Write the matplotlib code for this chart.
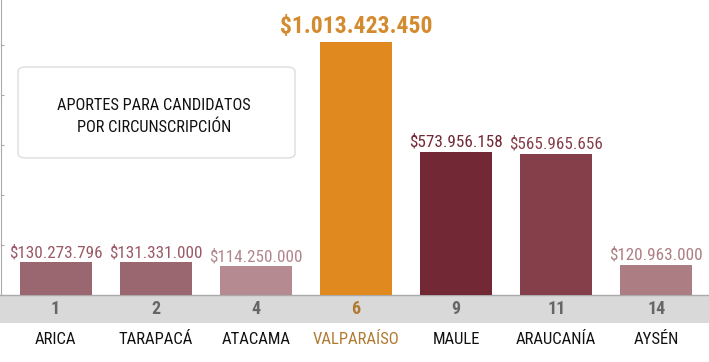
import matplotlib
matplotlib.use("Agg")
import matplotlib.pyplot as plt
from matplotlib.patches import FancyBboxPatch, Rectangle

plt.rcParams["font.family"] = ["Roboto Condensed", "Archivo Narrow", "DejaVu Sans"]

# data
circunscripciones = ["1", "2", "4", "6", "9", "11", "14"]
regiones = ["ARICA", "TARAPACÁ", "ATACAMA", "VALPARAÍSO", "MAULE", "ARAUCANÍA", "AYSÉN"]
aportes = [130273796, 131331000, 114250000, 1013423450, 573956158, 565965656, 120963000]
bar_colors = ["#9a6770", "#9a6770", "#b58b91", "#df891e", "#722835", "#853f4a", "#ad7d84"]
label_colors = ["#9a5966", "#9a5966", "#b0868c", "#d48a2e", "#722835", "#843f4b", "#ad7d84"]
HIGHLIGHT = 3

W, H = 709, 362
fig = plt.figure(figsize=(W / 100, H / 100), dpi=100)
base_px = 295
ax = fig.add_axes([1 / W, (H - base_px) / H, (W - 1) / W, base_px / H])
ax.patch.set_alpha(0)

x = list(range(len(aportes)))
ax.bar(x, aportes, width=0.72, color=bar_colors, zorder=2)
ax.set_xlim(-0.545, 6.525)
ax.set_ylim(0, 1180e6)

for s in ["top", "right", "bottom"]:
    ax.spines[s].set_visible(False)
ax.spines["left"].set_color("#aaaaaa")
ax.set_yticks([200e6, 400e6, 600e6, 800e6, 1000e6])
ax.set_yticklabels([])
ax.tick_params(axis="y", direction="in", length=2.3, color="#aaaaaa")
ax.set_xticks([])

# value labels
for i, v in enumerate(aportes):
    s = "$" + f"{v:,}".replace(",", ".")
    if i == HIGHLIGHT:
        ax.annotate(s, (i, v), xytext=(0, 6.5), textcoords="offset points",
                    ha="center", va="baseline", fontsize=17, fontweight="bold",
                    color=label_colors[i])
    else:
        ax.annotate(s, (i, v), xytext=(0, 3.5), textcoords="offset points",
                    ha="center", va="baseline", fontsize=12.3, color=label_colors[i])

# gray band with circunscripcion numbers
band = Rectangle((0, (H - 323) / H), 1, 28 / H, transform=fig.transFigure,
                 facecolor="#d9d9d9", edgecolor="none", zorder=-2)
fig.patches.append(band)
fig.add_artist(plt.Line2D([0, 1], [(H - base_px) / H] * 2, transform=fig.transFigure,
                          color="#aaaaaa", lw=1, zorder=-1))

trans = ax.get_xaxis_transform()
for i, (num, reg) in enumerate(zip(circunscripciones, regiones)):
    c_num = "#b07a30" if i == HIGHLIGHT else "#666666"
    c_reg = "#b07a30" if i == HIGHLIGHT else "#111111"
    ax.text(i, -14 / base_px, num, transform=trans, ha="center", va="center",
            fontsize=13, fontweight="bold", color=c_num, clip_on=False)
    ax.text(i, -44 / base_px, reg, transform=trans, ha="center", va="center",
            fontsize=12, color=c_reg, clip_on=False)

# title box
box = FancyBboxPatch((18 / W, (H - 158) / H), 277 / W, 91 / H,
                     boxstyle="round,pad=0,rounding_size=0.012",
                     transform=fig.transFigure, facecolor="white",
                     edgecolor="#dddddd", lw=1, zorder=3)
fig.patches.append(box)
fig.text(154 / W, (H - 105) / H, "APORTES PARA CANDIDATOS", ha="center", va="center",
         fontsize=11.8, color="#111111", zorder=4)
fig.text(154 / W, (H - 127) / H, "POR CIRCUNSCRIPCIÓN", ha="center", va="center",
         fontsize=11.8, color="#111111", zorder=4)

fig.savefig("out.png", dpi=100)
